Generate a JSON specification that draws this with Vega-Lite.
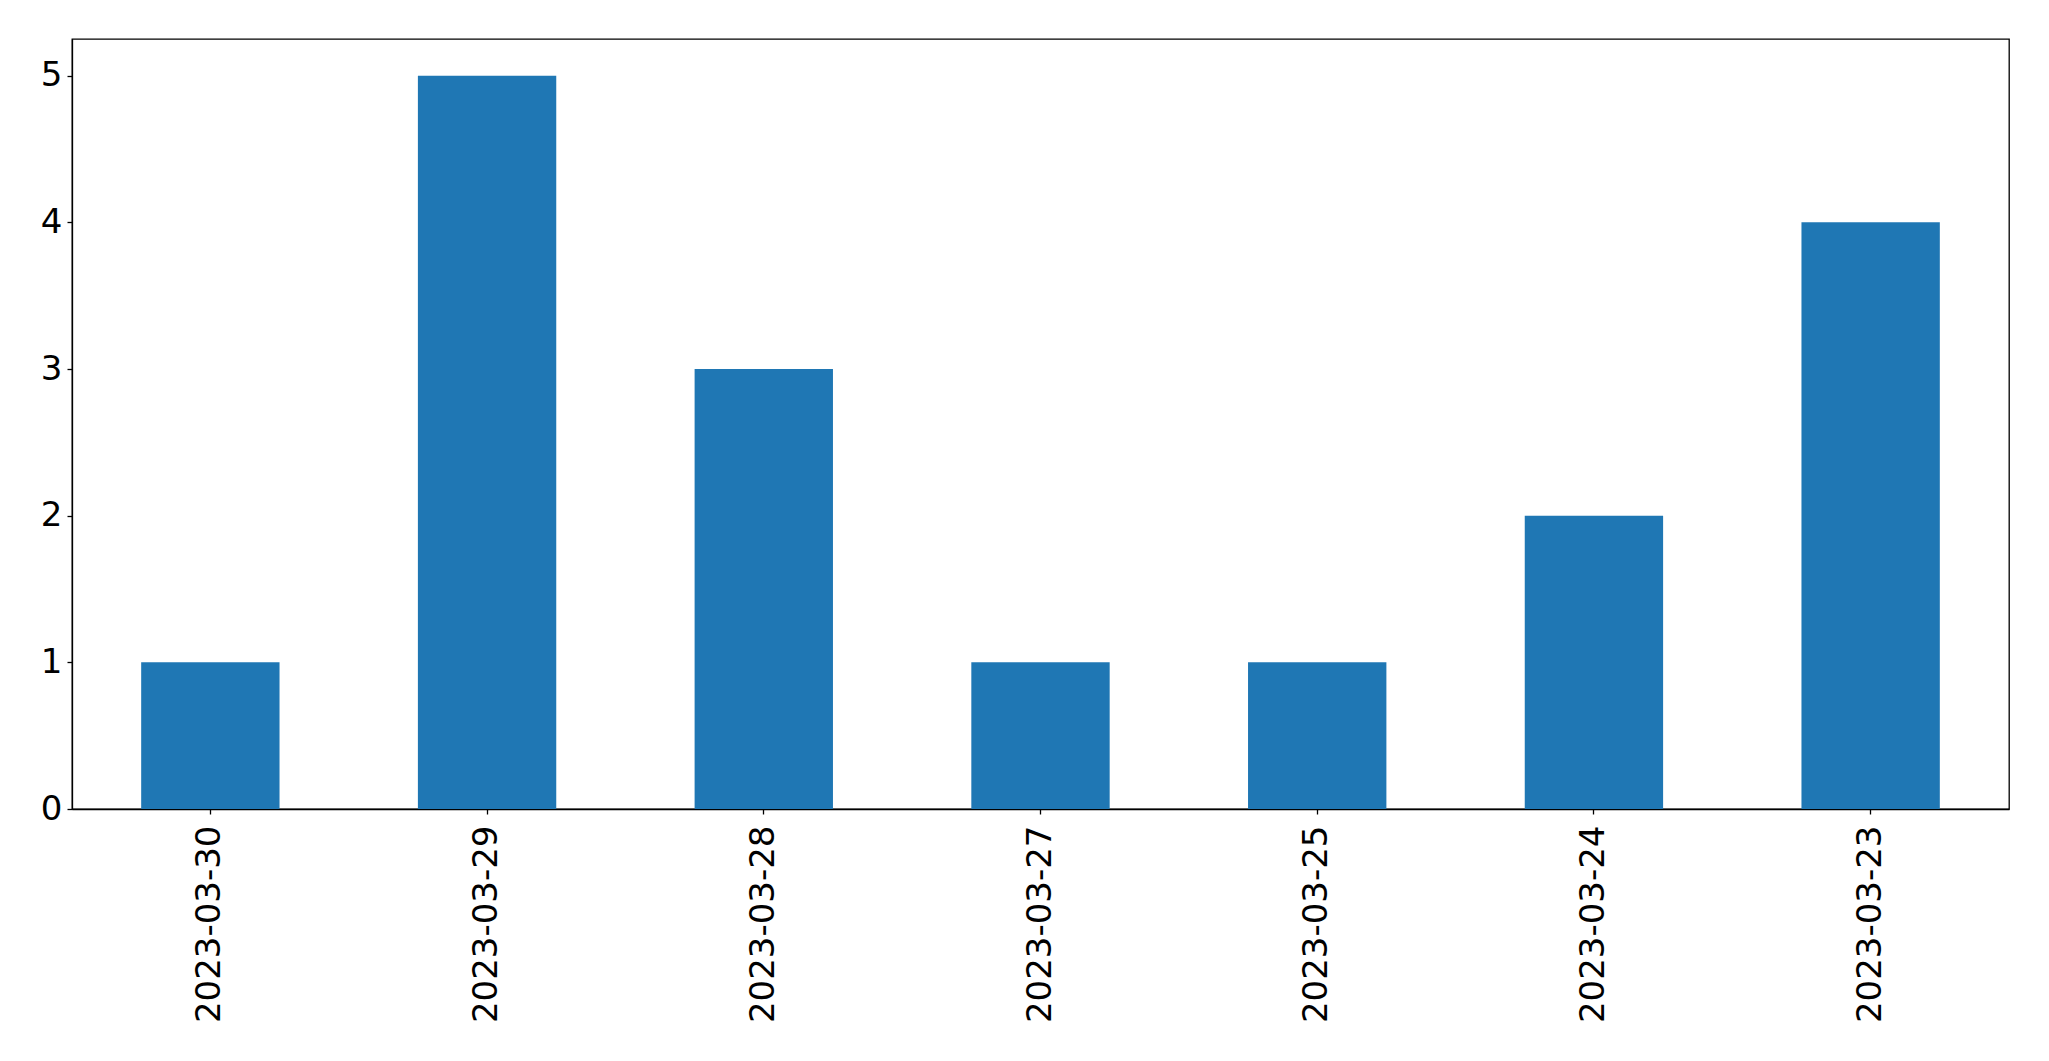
{
  "$schema": "https://vega.github.io/schema/vega-lite/v6.json",
  "autosize": "none",
  "padding": {"left": 72, "top": 39, "right": 40, "bottom": 252},
  "width": 1937,
  "height": 770,
  "background": "white",
  "config": {
    "view": {"stroke": "black", "strokeWidth": 1.3},
    "font": "DejaVu Sans",
    "axis": {
      "labelFont": "DejaVu Sans",
      "labelFontSize": 34,
      "labelColor": "black",
      "labelLimit": 0,
      "domainColor": "black",
      "tickColor": "black",
      "tickSize": 5,
      "tickWidth": 1.3,
      "domainWidth": 1.3,
      "grid": false,
      "title": null
    }
  },
  "data": {
    "values": [
      {"date": "2023-03-30", "count": 1},
      {"date": "2023-03-29", "count": 5},
      {"date": "2023-03-28", "count": 3},
      {"date": "2023-03-27", "count": 1},
      {"date": "2023-03-25", "count": 1},
      {"date": "2023-03-24", "count": 2},
      {"date": "2023-03-23", "count": 4}
    ]
  },
  "mark": {"type": "bar", "color": "#1f77b4"},
  "encoding": {
    "x": {
      "field": "date",
      "type": "nominal",
      "sort": null,
      "scale": {"paddingInner": 0.5, "paddingOuter": 0.25},
      "axis": {"labelAngle": 270, "labelAlign": "right", "labelBaseline": "middle", "labelPadding": 11}
    },
    "y": {
      "field": "count",
      "type": "quantitative",
      "scale": {"domain": [0, 5.25], "nice": false},
      "axis": {"values": [0, 1, 2, 3, 4, 5], "labelPadding": 5}
    }
  }
}
